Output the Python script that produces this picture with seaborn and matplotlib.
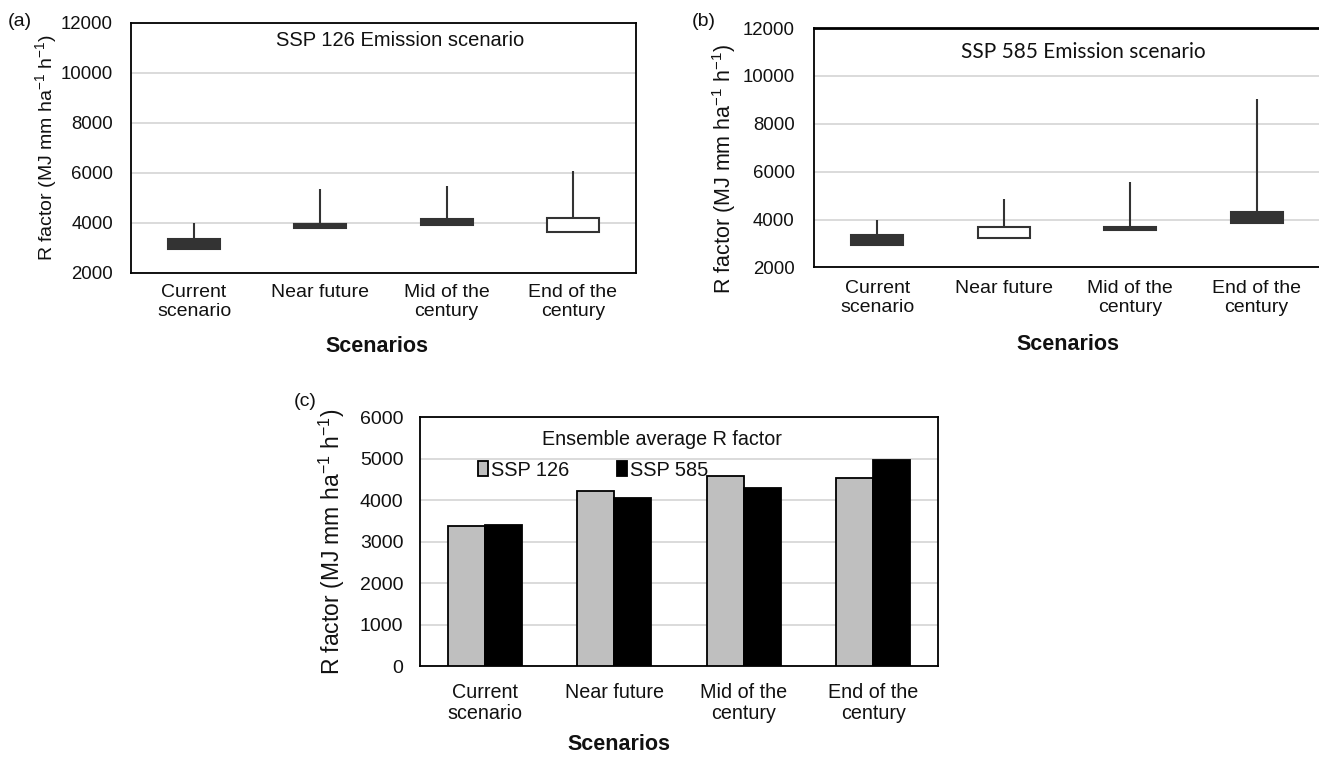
import seaborn as sns
import matplotlib.pyplot as plt
import pandas as pd

sns.set_theme(style="white")
plt.rcParams['font.family'] = ['Liberation Sans', 'DejaVu Sans']
plt.rcParams['mathtext.fontset'] = 'custom'
plt.rcParams['mathtext.rm'] = 'Liberation Sans'
plt.rcParams['mathtext.it'] = 'Liberation Sans:italic'
plt.rcParams['text.color'] = '#111111'
plt.rcParams['axes.labelcolor'] = '#111111'

# categorias de los escenarios
escenarios = ["Current\nscenario", "Near future", "Mid of the\ncentury", "End of the\ncentury"]

# velas tipo "stock chart" (open, high, low, close)
ssp126_open = [3360, 3940, 4140, 3620]
ssp126_high = [3980, 5340, 5480, 6080]
ssp126_low = [2940, 3780, 3900, 3620]
ssp126_close = [2940, 3780, 3900, 4170]

ssp585_open = [3370, 3240, 3710, 4330]
ssp585_high = [3990, 4880, 5550, 9030]
ssp585_low = [2920, 3240, 3580, 3860]
ssp585_close = [2920, 3700, 3580, 3860]

# promedio del ensamble
prom_126 = [3380, 4220, 4570, 4530]
prom_585 = [3400, 4055, 4285, 4970]

ylab = r'R factor (MJ mm ha$^{-1}$ h$^{-1}$)'
oscuro = '#333333'

fig = plt.figure(figsize=(13.19, 7.61), dpi=100)


def velas(ax, op, hi, lo, cl):
    bajo = [min(o, c) for o, c in zip(op, cl)]
    alto = [max(o, c) for o, c in zip(op, cl)]
    colores = ['white' if c > o else oscuro for o, c in zip(op, cl)]
    ax.vlines(escenarios, alto, hi, color=oscuro, lw=1.5, zorder=2)
    ax.vlines(escenarios, lo, bajo, color=oscuro, lw=1.5, zorder=2)
    ax.bar(escenarios, [a - b for a, b in zip(alto, bajo)], bottom=bajo,
           width=0.41, color=colores, edgecolor=oscuro, linewidth=1.5, zorder=3)


def estilo(ax):
    ax.grid(axis='y', color='#d4d4d4', lw=1.2)
    ax.grid(axis='x', visible=False)
    for s in ax.spines.values():
        s.set_color('black')
        s.set_linewidth(1.3)
    ax.tick_params(length=0, colors='#111111')


# ---- (a) ----
ax1 = fig.add_axes([0.0993, 0.6419, 0.3829, 0.3285])
velas(ax1, ssp126_open, ssp126_high, ssp126_low, ssp126_close)
ax1.set_ylim(2000, 12000)
ax1.set_yticks(range(2000, 12001, 2000))
ax1.set_xlim(-0.5, 3.5)
estilo(ax1)
ax1.tick_params(axis='y', labelsize=13.4, pad=13)
ax1.tick_params(axis='x', labelsize=14, pad=8)
for t in ax1.get_xticklabels():
    t.set_linespacing(1.15)
ax1.set_ylabel(ylab, fontsize=14)
ax1.yaxis.set_label_coords(-0.1426, 0.5)
ax1.set_xlabel('Scenarios', fontsize=15.5, fontweight='bold')
ax1.xaxis.set_label_coords(0.487, -0.254)
ax1.text(0.532, 0.93, 'SSP 126 Emission scenario', transform=ax1.transAxes,
         ha='center', va='center', fontsize=14.5)

# ---- (b) ----
ax2 = fig.add_axes([0.6171, 0.6485, 0.3836, 0.3147])
velas(ax2, ssp585_open, ssp585_high, ssp585_low, ssp585_close)
ax2.set_ylim(2000, 12000)
ax2.set_yticks(range(2000, 12001, 2000))
ax2.set_xlim(-0.5, 3.5)
estilo(ax2)
ax2.spines['top'].set_linewidth(2)
ax2.tick_params(axis='y', labelsize=13.4, pad=14)
ax2.tick_params(axis='x', labelsize=14, pad=9)
for t in ax2.get_xticklabels():
    t.set_linespacing(1.15)
ax2.set_ylabel(ylab, fontsize=15.5)
ax2.yaxis.set_label_coords(-0.150, 0.41)
ax2.set_xlabel('Scenarios', fontsize=15.5, fontweight='bold')
ax2.xaxis.set_label_coords(0.502, -0.278)
ax2.text(0.532, 0.90, 'SSP 585 Emission scenario', transform=ax2.transAxes,
         ha='center', va='center', fontsize=15, family=['Lato', 'DejaVu Sans'])

# ---- (c) ----
df = pd.DataFrame({
    'escenario': escenarios * 2,
    'R': prom_126 + prom_585,
    'ssp': ['SSP 126'] * 4 + ['SSP 585'] * 4,
})
ax3 = fig.add_axes([0.3184, 0.1248, 0.3927, 0.3272])
sns.barplot(data=df, x='escenario', y='R', hue='ssp', palette=['#bfbfbf', 'black'],
            width=0.57, saturation=1, edgecolor='black', linewidth=1.3, ax=ax3, zorder=3)
ax3.set_ylim(0, 6000)
ax3.set_yticks(range(0, 6001, 1000))
ax3.set_xlim(-0.5, 3.5)
estilo(ax3)
ax3.tick_params(axis='y', labelsize=14, pad=12)
ax3.tick_params(axis='x', labelsize=14.2, pad=12)
for t in ax3.get_xticklabels():
    t.set_linespacing(1.15)
ax3.set_ylabel(ylab, fontsize=16.5)
ax3.yaxis.set_label_coords(-0.141, 0.5)
ax3.set_xlabel('Scenarios', fontsize=15.5, fontweight='bold')
ax3.xaxis.set_label_coords(0.384, -0.273)
ax3.text(0.468, 0.908, 'Ensemble average R factor', transform=ax3.transAxes,
         ha='center', va='center', fontsize=14.2)
sns.move_legend(ax3, loc='center left', bbox_to_anchor=(0.112, 0.787), ncol=2,
                frameon=False, title=None, fontsize=14.4, handlelength=0.5,
                handleheight=0.8, handletextpad=0.15, columnspacing=2.4,
                borderaxespad=0, borderpad=0)

# etiquetas de los paneles
fig.text(8 / 1319, 1 - 21 / 761, '(a)', fontsize=14, va='center', ha='left')
fig.text(692 / 1319, 1 - 21 / 761, '(b)', fontsize=14, va='center', ha='left')
fig.text(294 / 1319, 1 - 401 / 761, '(c)', fontsize=14, va='center', ha='left')

fig.savefig('out.png', dpi=100)
